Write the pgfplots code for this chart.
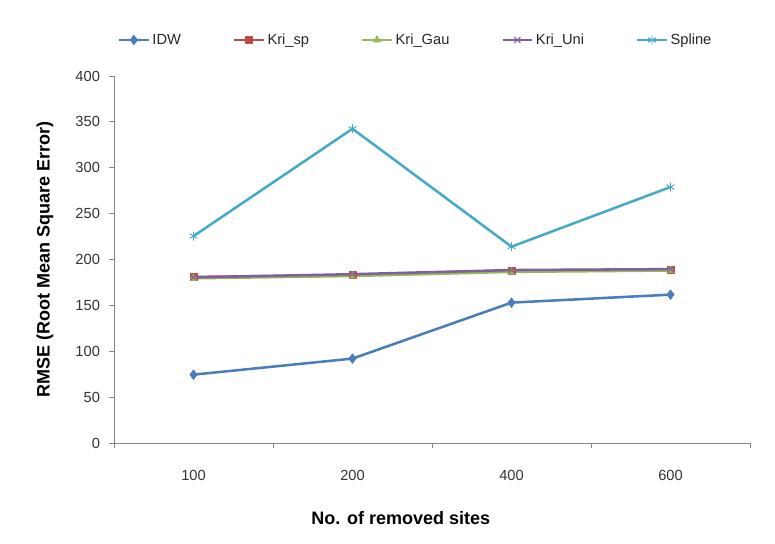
\documentclass[border=0pt]{standalone}
\usepackage{pgfplots}
\pgfplotsset{compat=1.18}
\usepackage{fontspec}
\setmainfont{Liberation Sans}
\usetikzlibrary{plotmarks}
\definecolor{cidw}{HTML}{4A7EBB}
\definecolor{csp}{HTML}{BE4B48}
\definecolor{cgau}{HTML}{98B954}
\definecolor{cuni}{HTML}{7D60A0}
\definecolor{cspl}{HTML}{46AAC5}
\definecolor{axgray}{HTML}{868686}
\begin{document}
\begin{tikzpicture}
\useasboundingbox (0,0) rectangle (581.25pt,407.25pt);
\begin{axis}[
  at={(85.5pt,75pt)}, anchor=south west,
  scale only axis, width=477pt, height=275.25pt,
  xmin=-0.5, xmax=3.5, ymin=0, ymax=400,
  axis x line*=bottom, axis y line*=left,
  axis line style={axgray, line width=0.6pt},
  xtick={0,1,2,3}, xticklabels={100,200,400,600},
  major x tick style={draw=none},
  minor xtick={-0.5,0.5,1.5,2.5,3.5},
  minor tick length=4pt,
  minor x tick style={axgray, line width=0.6pt},
  ytick={0,50,...,400},
  major tick length=4pt,
  tick align=outside,
  y tick style={axgray, line width=0.6pt},
  tick label style={font=\fontsize{11}{13}\selectfont, text=black!80},
  xticklabel style={yshift=-13pt},
  yticklabel style={xshift=-3pt},
  /pgf/number format/assume math mode=true,
  xlabel={No. of removed sites},
  ylabel={RMSE (Root Mean Square Error)},
  xlabel style={at={(axis description cs:0.451,-0.204)}, anchor=center, font=\bfseries\fontsize{13.5}{15}\selectfont},
  ylabel style={at={(axis description cs:-0.1085,0.5)}, anchor=center, rotate=0, font=\bfseries\fontsize{13.5}{15}\selectfont},
  legend columns=5,
  legend style={at={(312pt-85.5pt,377.25pt-75pt)}, anchor=center, draw=none, fill=none,
    font=\fontsize{11}{13}\selectfont, text=black!85,
    /tikz/every even column/.append style={column sep=37pt}},
  legend cell align=left,
  legend image code/.code={
    \draw[#1, mark repeat=2, mark phase=2] plot coordinates {(0pt,0pt) (11pt,0pt) (22pt,0pt)};
  },
  every axis plot/.append style={line width=1.9pt, line join=round},
]
\addplot[cidw, mark=diamond*, mark size=3.6pt, mark options={solid, fill=cidw, line width=0.5pt}] coordinates {(0,74.5) (1,92) (2,153) (3,161.7)};
\addlegendentry{IDW}
\addplot[csp, mark=square*, mark size=2.6pt, mark options={solid, fill=csp, line width=0.5pt}] coordinates {(0,181) (1,183) (2,188) (3,189)};
\addlegendentry{Kri\_sp}
\addplot[cgau, mark=triangle*, mark size=3.2pt, mark options={solid, fill=cgau, line width=0.5pt}] coordinates {(0,179.5) (1,182) (2,186.5) (3,188)};
\addlegendentry{Kri\_Gau}
\addplot[cuni, mark=x, mark size=3.2pt, mark options={solid, line width=0.8pt}] coordinates {(0,180.5) (1,184) (2,188.5) (3,189.5)};
\addlegendentry{Kri\_Uni}
\addplot[cspl, mark=asterisk, mark size=3.4pt, mark options={solid, line width=0.7pt}] coordinates {(0,225.5) (1,342.5) (2,214) (3,279)};
\addlegendentry{Spline}
\end{axis}
\end{tikzpicture}
\end{document}
